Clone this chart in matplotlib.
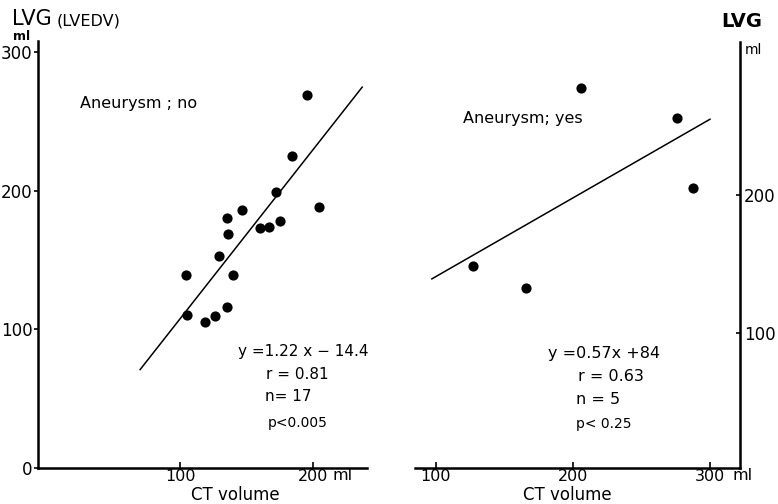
import matplotlib
matplotlib.use("Agg")
import matplotlib.pyplot as plt
import numpy as np

plt.rcParams['font.family'] = ['DejaVu Sans']

# Aneurysm; no  (CT volume vs LVG, ml)
ct_no = [195.5, 184, 172, 204.5, 146.5, 135, 136, 160, 167, 175, 129,
         104.5, 140, 105, 119, 126, 135]
lvg_no = [269, 225, 199, 188, 186, 180.5, 169, 173, 174, 178, 153,
          139, 139, 110.5, 105.5, 110, 116]

# Aneurysm; yes
ct_yes = [127, 166, 206, 276, 287.5]
lvg_yes = [148.5, 133, 278, 256, 205]

# regression lines
fit_no = (1.22, -14.4)
fit_yes = (0.57, 84)
span_no = np.array([70, 237])
span_yes = np.array([97, 300])

stats_no = ["y =1.22 x \u2212 14.4", "r = 0.81", "n= 17", "p<0.005"]
stats_yes = ["y =0.57x +84", "r = 0.63", "n = 5", "p< 0.25"]

W, H = 778, 504
fig = plt.figure(figsize=(W / 100, H / 100), dpi=100)


def box(x0, y0, x1, y1):
    return [x0 / W, 1 - y1 / H, (x1 - x0) / W, (y1 - y0) / H]


def ftext(x, y, s, **kw):
    fig.text(x / W, 1 - y / H, s, **kw)


ax1 = fig.add_axes(box(38, 41, 367, 468))
ax2 = fig.add_axes(box(415, 42, 740, 468))

# ---- left panel ----
ax1.scatter(ct_no, lvg_no, s=40, color="black", zorder=3)
ax1.plot(span_no, fit_no[0] * span_no + fit_no[1], color="black", lw=1.1)
ax1.set_xlim(-6.8, 240.6)
ax1.set_ylim(0, 308)
for s in ["top", "right"]:
    ax1.spines[s].set_visible(False)
for s in ["left", "bottom"]:
    ax1.spines[s].set_linewidth(1.8)
ax1.set_xticks([100, 200])
ax1.set_yticks([0, 100, 200, 300])
ax1.tick_params(axis="x", direction="in", length=4, width=1.2, pad=0.5, labelsize=11.5)
ax1.tick_params(axis="y", direction="out", length=3, width=1.2, pad=1, labelsize=12)

ax1.text(24.8, 262.8, "Aneurysm ; no", fontsize=11.5, va="center", ha="left")
ax1.text(143.6, 83.8, stats_no[0], fontsize=11, va="center", ha="left")
ax1.text(164.7, 67.1, stats_no[1], fontsize=11, va="center", ha="left")
ax1.text(163.9, 51.3, stats_no[2], fontsize=11, va="center", ha="left")
ax1.text(166, 32.5, stats_no[3], fontsize=10, va="center", ha="left")

# ---- right panel ----
ax2.scatter(ct_yes, lvg_yes, s=40, color="black", zorder=3)
ax2.plot(span_yes, fit_yes[0] * span_yes + fit_yes[1], color="black", lw=1.1)
ax2.set_xlim(84.7, 321.9)
ax2.set_ylim(2.2, 311)
for s in ["top", "left"]:
    ax2.spines[s].set_visible(False)
for s in ["right", "bottom"]:
    ax2.spines[s].set_linewidth(1.8)
ax2.yaxis.tick_right()
ax2.set_xticks([100, 200, 300])
ax2.set_yticks([100, 200])
ax2.tick_params(axis="x", direction="in", length=4, width=1.2, pad=0.5, labelsize=11.5)
ax2.tick_params(axis="y", direction="in", length=3, width=1.2, pad=3, labelsize=12)

ax2.text(119.7, 255.8, "Aneurysm; yes", fontsize=11.5, va="center", ha="left")
ax2.text(181.8, 85.5, stats_yes[0], fontsize=11.5, va="center", ha="left")
ax2.text(204, 68.8, stats_yes[1], fontsize=11.5, va="center", ha="left")
ax2.text(202, 52, stats_yes[2], fontsize=11.5, va="center", ha="left")
ax2.text(202, 34, stats_yes[3], fontsize=10, va="center", ha="left")

# ---- titles and unit labels ----
ftext(12, 25, "LVG", fontsize=15, va="baseline")
ftext(57, 25, "(LVEDV)", fontsize=11.5, va="baseline")
ftext(13, 40, "ml", fontsize=9, fontweight="bold", va="baseline")
ftext(721, 27, "LVG", fontsize=14, fontweight="bold", va="baseline")
ftext(745, 50, "ml", fontsize=10, va="center")
ftext(333, 476, "ml", fontsize=11.5, va="center")
ftext(733, 476, "ml", fontsize=11.5, va="center")
ftext(235, 504, "CT volume", fontsize=12, ha="center", va="bottom")
ftext(567, 504, "CT volume", fontsize=12, ha="center", va="bottom")

fig.savefig("out.png", dpi=100)
